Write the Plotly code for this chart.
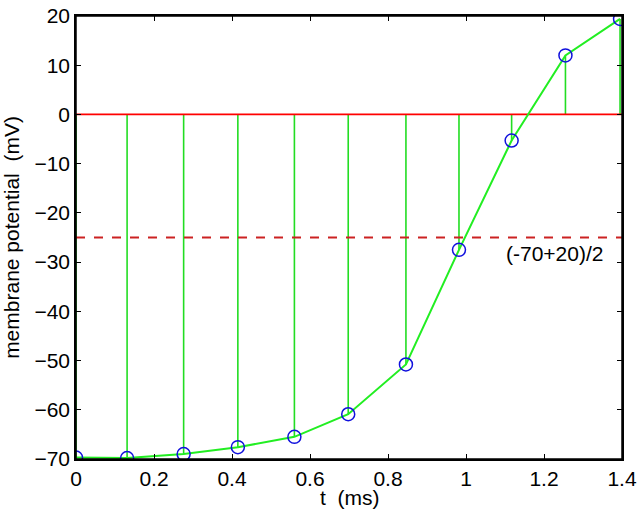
import plotly.graph_objects as go

t_ms = [0.0, 0.131, 0.276, 0.415, 0.56, 0.698, 0.846, 0.982, 1.117, 1.255, 1.395]
v_mV = [-69.7, -69.8, -69.0, -67.6, -65.5, -60.9, -50.8, -27.5, -5.3, 12.0, 19.4]
threshold = 0
half_level = (-70 + 20) / 2
x_ticks = [0, 0.2, 0.4, 0.6, 0.8, 1.0, 1.2, 1.4]
x_tick_labels = ["0", "0.2", "0.4", "0.6", "0.8", "1", "1.2", "1.4"]
y_ticks = [-70, -60, -50, -40, -30, -20, -10, 0, 10, 20]

FONT = "Liberation Sans, Arial"
FS = 21

fig = go.Figure()

# stems from threshold to each point
sx, sy = [], []
for x, y in zip(t_ms, v_mV):
    sx += [x, x, None]
    sy += [threshold, y, None]
fig.add_trace(go.Scatter(x=sx, y=sy, mode="lines",
                         line=dict(color="#22dd22", width=1.6), hoverinfo="skip"))

# horizontal reference lines
fig.add_trace(go.Scatter(x=[0, 1.4], y=[threshold, threshold], mode="lines",
                         line=dict(color="#ff0000", width=1.8)))
fig.add_trace(go.Scatter(x=[0, 1.4], y=[half_level, half_level], mode="lines",
                         line=dict(color="#cc2222", width=1.8, dash="dash")))

# membrane potential curve
fig.add_trace(go.Scatter(x=t_ms, y=v_mV, mode="lines",
                         line=dict(color="#22ee22", width=2)))
fig.add_trace(go.Scatter(x=t_ms, y=v_mV, mode="markers",
                         marker=dict(symbol="circle-open", size=13,
                                     color="#1010dd", line=dict(width=1.5))))

fig.add_annotation(x=1.228, y=-28.2, text="(-70+20)/2", showarrow=False,
                   font=dict(size=FS, color="black", family=FONT))
fig.add_annotation(x=0.5, xref="paper", y=0, yref="paper", yanchor="top", yshift=-25,
                   text="t  (ms)", showarrow=False,
                   font=dict(size=FS, color="black", family=FONT))

# box around the axes
fig.add_shape(type="rect", xref="paper", yref="paper", x0=0, x1=1, y0=0, y1=1,
              line=dict(color="black", width=1.5), layer="above")

axis_common = dict(showgrid=False, zeroline=False, showline=True, linecolor="black",
                   linewidth=1.5, mirror="ticks", ticks="inside", ticklen=5,
                   tickcolor="black", tickwidth=1.2, automargin=False, layer="above traces",
                   ticklabeloverflow="allow",
                   tickfont=dict(size=FS, color="black", family=FONT))

fig.update_xaxes(range=[0, 1.4], tickvals=x_ticks, ticktext=x_tick_labels, **axis_common)
fig.update_yaxes(range=[-70, 20], tickvals=y_ticks,
                 title=dict(text="membrane potential  (mV)", standoff=10,
                            font=dict(size=FS, color="black", family=FONT)),
                 **axis_common)

fig.update_layout(width=639, height=519, showlegend=False,
                  margin=dict(l=76, r=17, t=16, b=60),
                  plot_bgcolor="white", paper_bgcolor="white")

# remove the page's default body margin so the figure fills the window exactly
fig.write_html("out.html", config={"displayModeBar": False},
               post_script="document.body.style.margin='0';document.body.style.overflow='hidden';")
